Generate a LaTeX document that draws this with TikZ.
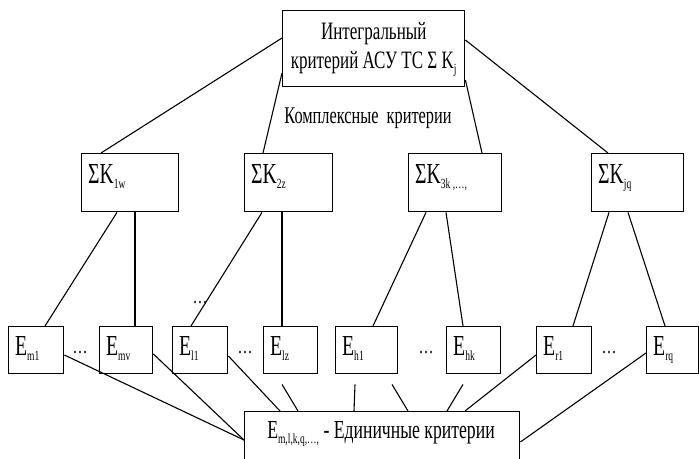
\documentclass[tikz,border=0pt]{standalone}
\usepackage{fontspec}
\setmainfont{Liberation Serif}[FakeStretch=0.68]
\usetikzlibrary{calc}
\newcommand\sbx[1]{\raisebox{-5pt}{\fontsize{14}{14}\selectfont #1}}
\begin{document}
\begin{tikzpicture}[x=1pt,y=-1pt,
  box/.style={draw,line width=1.4pt,inner sep=0pt,anchor=north west},
  conn/.style={line width=1.1pt},
  big/.style={font=\fontsize{29}{29}\selectfont,inner sep=0pt,anchor=base west},
  dotsnode/.style={font=\fontsize{22}{22}\selectfont,inner sep=0pt,anchor=base}]
\useasboundingbox (0,0) rectangle (699,458);
\fill[white] (0,0) rectangle (699,458);
\clip (0,0) rectangle (699,458);
% top
\node[box,minimum width=182pt,minimum height=76pt] (T) at (282,10) {};
\node[font=\fontsize{25}{29}\selectfont,align=center,inner sep=0pt] (tt) at ($(T.center)+(0,1)$) {Интегральный\\критерий АСУ ТС Σ K\sbx{j}};
\node[font=\fontsize{24}{24}\selectfont,inner sep=0pt,anchor=base] (kk) at (368,123) {Комплексные \ критерии};
% middle
\node[box,minimum width=97pt,minimum height=58pt] (M1) at (81,153) {};
\node[box,minimum width=88pt,minimum height=58pt] (M2) at (244,153) {};
\node[box,minimum width=93pt,minimum height=58pt] (M3) at (408,153) {};
\node[box,minimum width=92pt,minimum height=58pt] (M4) at (591,153) {};
\node[big] (m1t) at ($(M1.north west)+(7,30)$) {ΣK\sbx{1w}};
\node[big] (m2t) at ($(M2.north west)+(7,30)$) {ΣK\sbx{2z}};
\node[big] (m3t) at ($(M3.north west)+(7,30)$) {ΣK\sbx{3k ,…,}};
\node[big] (m4t) at ($(M4.north west)+(7,30)$) {ΣK\sbx{jq}};
% bottom row
\node[box,minimum width=55pt,minimum height=47pt] (B1) at (8,326) {};
\node[box,minimum width=53pt,minimum height=47pt] (B2) at (99,326) {};
\node[box,minimum width=55pt,minimum height=47pt] (B3) at (172,326) {};
\node[box,minimum width=54pt,minimum height=47pt] (B4) at (263,326) {};
\node[box,minimum width=62pt,minimum height=47pt] (B5) at (335,326) {};
\node[box,minimum width=54pt,minimum height=47pt] (B6) at (446,326) {};
\node[box,minimum width=55pt,minimum height=47pt] (B7) at (536,326) {};
\node[box,minimum width=52pt,minimum height=47pt] (B8) at (646,326) {};
\node[big] (b1t) at ($(B1.north west)+(7,29)$) {E\sbx{m1}};
\node[big] (b2t) at ($(B2.north west)+(7,29)$) {E\sbx{mv}};
\node[big] (b3t) at ($(B3.north west)+(7,29)$) {E\sbx{l1}};
\node[big] (b4t) at ($(B4.north west)+(7,29)$) {E\sbx{lz}};
\node[big] (b5t) at ($(B5.north west)+(7,29)$) {E\sbx{h1}};
\node[big] (b6t) at ($(B6.north west)+(7,29)$) {E\sbx{hk}};
\node[big] (b7t) at ($(B7.north west)+(7,29)$) {E\sbx{r1}};
\node[big] (b8t) at ($(B8.north west)+(7,29)$) {E\sbx{rq}};
\node[dotsnode] (d1) at (80,353) {…};
\node[dotsnode] (d2) at (245,353) {…};
\node[dotsnode] (d3) at (426,353) {…};
\node[dotsnode] (d4) at (609,353) {…};
\node[dotsnode] (d5) at (200,303) {…};
% bottom box
\node[box,minimum width=275pt,minimum height=80pt] (Z) at (244,411) {};
\node[font=\fontsize{26}{26}\selectfont,inner sep=0pt,anchor=base] (zt) at ($(Z.north west)+(137,27)$) {E\sbx{m,l,k,q,…,} - Единичные критерии};
% gap starts
\coordinate (g1) at ($(B4.south west)+(19,10)$);
\coordinate (g2) at ($(B5.south west)+(20,10)$);
\coordinate (g3) at ($(B5.south west)+(57,10)$);
\coordinate (g4) at ($(B6.south west)+(17,10)$);
% connectors top -> middle
\draw[conn] ($(T.north west)+(0,28)$) -- ($(M1.north west)+(20,0)$);
\draw[conn] ($(T.north west)+(0,63)$) -- ($(M2.north west)+(19,0)$);
\draw[conn] ($(T.north east)+(0,70)$) -- ($(M3.north west)+(74,0)$);
\draw[conn] ($(T.north east)+(0,30)$) -- ($(M4.north west)+(17,0)$);
% middle -> bottom row
\draw[conn] ($(M1.south west)+(36,0)$) -- ($(B1.north west)+(37,0)$);
\draw[conn] ($(M1.south west)+(54,0)$) -- ($(B2.north west)+(36,0)$);
\draw[conn] ($(M2.south west)+(18,0)$) -- ($(B3.north west)+(19,0)$);
\draw[conn] ($(M2.south west)+(38,0)$) -- ($(B4.north west)+(19,0)$);
\draw[conn] ($(M3.south west)+(18,0)$) -- ($(B5.north west)+(38,0)$);
\draw[conn] ($(M3.south west)+(38,0)$) -- ($(B6.north west)+(17,0)$);
\draw[conn] ($(M4.south west)+(18,0)$) -- ($(B7.north west)+(37,0)$);
\draw[conn] ($(M4.south west)+(37,0)$) -- ($(B8.north west)+(19,0)$);
% bottom row -> bottom box
\draw[conn] ($(B1.north east)+(0,29)$) -- ($(Z.north west)+(0,29)$);
\draw[conn] ($(B2.north east)+(0,28)$) -- ($(Z.north west)+(0,29)$);
\draw[conn] ($(B3.north east)+(0,30)$) -- ($(Z.north west)+(36,0)$);
\draw[conn] (g1) -- ($(Z.north west)+(54,0)$);
\draw[conn] (g2) -- ($(Z.north west)+(110,0)$);
\draw[conn] (g3) -- ($(Z.north west)+(164,0)$);
\draw[conn] (g4) -- ($(Z.north west)+(203,0)$);
\draw[conn] ($(B7.north west)+(0,29)$) -- ($(Z.north west)+(221,0)$);
\draw[conn] ($(B8.north west)+(0,27)$) -- ($(Z.north east)+(0,31)$);
\end{tikzpicture}
\end{document}
